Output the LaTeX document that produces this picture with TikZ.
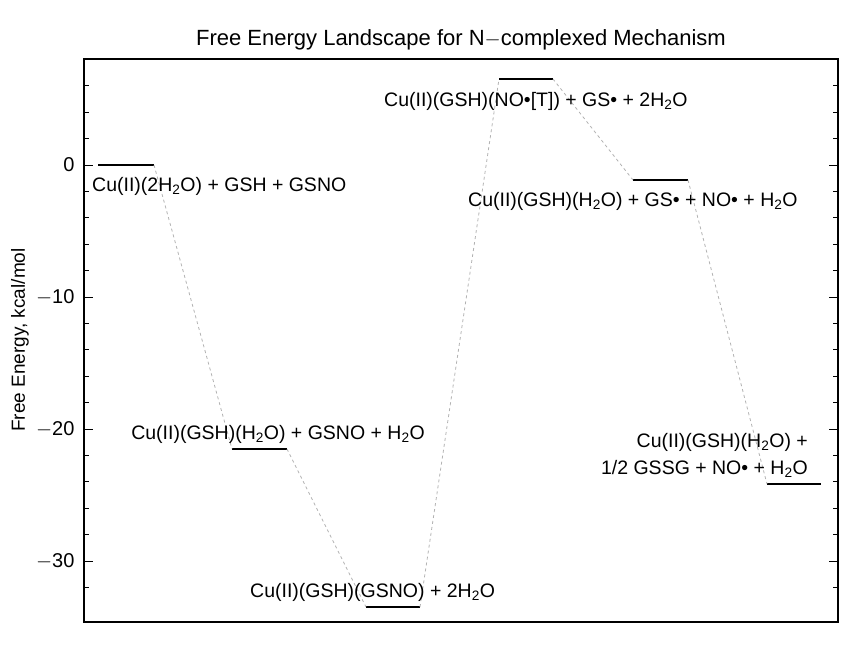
\documentclass[tikz,border=0pt]{standalone}
\usepackage{fontspec}
\setmainfont{Liberation Sans}
\begin{document}
\begin{tikzpicture}[x=1pt,y=-1pt,
  lvl/.style={line width=2.2pt},
  conn/.style={gray!60,dashed,line width=0.8pt},
  lab/.style={font=\fontsize{19.5}{23}\selectfont,inner sep=0pt}]
\useasboundingbox (0,0) rectangle (861,662);
\node[font=\fontsize{22}{26}\selectfont] (title) at (461,40) {Free Energy Landscape for N\(-\)complexed Mechanism};
\draw[line width=1.4pt] (84,59) rectangle (838,622);
% ticks
\foreach \v in {-32,-30,...,6}{
  \pgfmathsetmacro\yy{165-13.2*\v}
  \draw[line width=1pt] (84,\yy) -- (89,\yy);
  \draw[line width=1pt] (838,\yy) -- (833,\yy);}
\foreach \v in {0,-10,-20,-30}{
  \pgfmathsetmacro\yy{165-13.2*\v}
  \draw[line width=1pt] (84,\yy) -- (93,\yy);
  \draw[line width=1pt] (838,\yy) -- (829,\yy);
  \node[anchor=east,font=\fontsize{20}{22}\selectfont] at (78,\yy) {\ifnum\v<0 \(-\)\the\numexpr-\v\relax\else\v\fi};}
\node[rotate=90,font=\fontsize{19}{22}\selectfont] (ylab) at (20,340) {Free Energy, kcal/mol};
% levels
\draw[lvl] (98,165) coordinate (a1) -- (154,165) coordinate (a2);
\draw[lvl] (232,449) coordinate (b1) -- (287,449) coordinate (b2);
\draw[lvl] (366,607) coordinate (c1) -- (420,607) coordinate (c2);
\draw[lvl] (499,79) coordinate (d1) -- (553,79) coordinate (d2);
\draw[lvl] (633,180) coordinate (e1) -- (688,180) coordinate (e2);
\draw[lvl] (767,484) coordinate (f1) -- (821,484) coordinate (f2);
\draw[conn] (a2) -- (b1);
\draw[conn] (b2) -- (c1);
\draw[conn] (c2) -- (d1);
\draw[conn] (d2) -- (e1);
\draw[conn] (e2) -- (f1);
% labels
\node[lab,anchor=west] (la) at (92,186) {Cu(II)(2H\textsubscript{2}O) + GSH + GSNO};
\node[lab,anchor=east] (lb) at (425,434) {Cu(II)(GSH)(H\textsubscript{2}O) + GSNO + H\textsubscript{2}O};
\node[lab,anchor=west] (lc) at (250,592) {Cu(II)(GSH)(GSNO) + 2H\textsubscript{2}O};
\node[lab,anchor=west] (ld) at (384,101) {Cu(II)(GSH)(NO•[T]) + GS• + 2H\textsubscript{2}O};
\node[lab,anchor=west] (le) at (468,201) {Cu(II)(GSH)(H\textsubscript{2}O) + GS• + NO• + H\textsubscript{2}O};
\node[lab,anchor=east] (lf1) at (808,442) {Cu(II)(GSH)(H\textsubscript{2}O) +};
\node[lab,anchor=east] (lf2) at (808,469) {1/2 GSSG + NO• + H\textsubscript{2}O};
\end{tikzpicture}
\end{document}
